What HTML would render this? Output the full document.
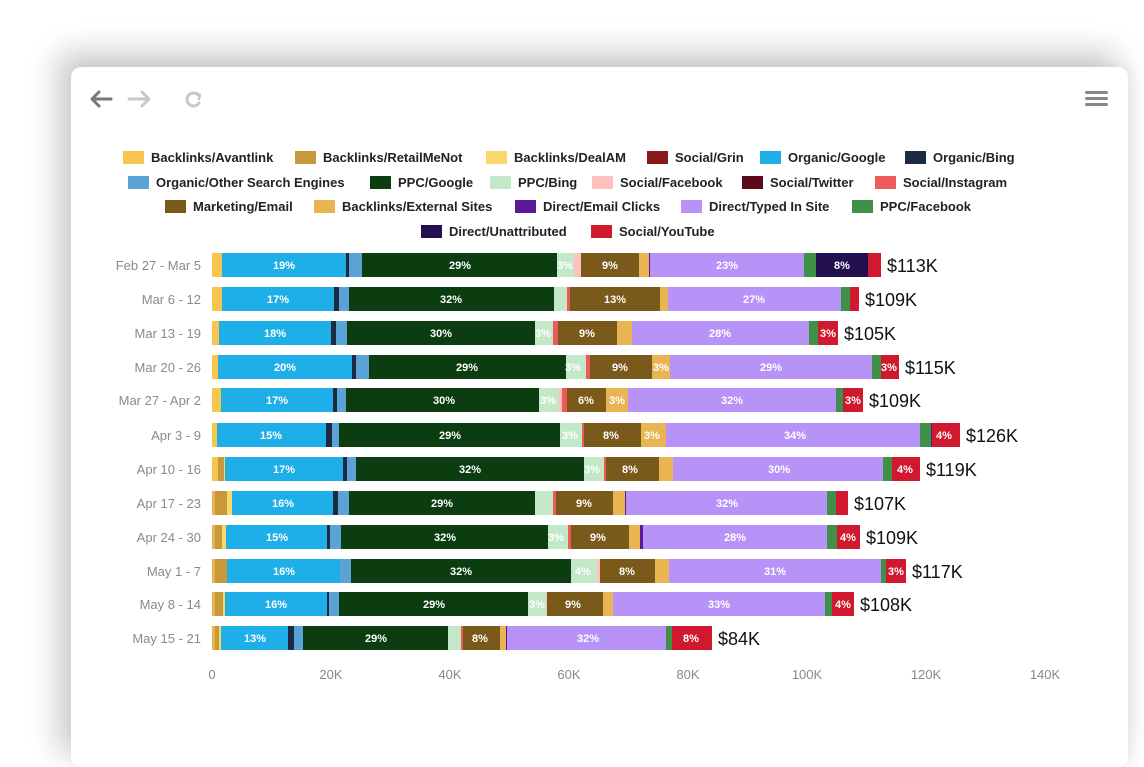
<!DOCTYPE html>
<html><head><meta charset="utf-8"><style>
html,body{margin:0;padding:0;width:1144px;height:723px;overflow:hidden;background:#fff;font-family:"Liberation Sans",Arial,sans-serif}
.card{position:absolute;left:71px;top:67px;width:1057px;height:700px;background:#fff;border-radius:10px;box-shadow:-12px -14px 30px 2px rgba(0,0,0,0.2),6px 0 14px rgba(0,0,0,0.06)}
svg{position:absolute;left:0;top:0}
.A{fill:#F5C54E}.R{fill:#C8993A}.D{fill:#F8D86A}.G{fill:#8B1A1A}.O{fill:#1EAEE8}.B{fill:#1C2A44}.S{fill:#5BA2D6}.P{fill:#0B3D10}.M{fill:#C2E8C8}.F{fill:#FFC0C0}.T{fill:#5C0A1A}.I{fill:#EE5A5A}.E{fill:#7A5A1A}.X{fill:#E8B552}.C{fill:#5A1A9A}.L{fill:#B792F7}.K{fill:#3F9148}.U{fill:#23104F}.Y{fill:#D0192E}
.lg{font-size:13px;font-weight:bold;fill:#222}
.bl{font-size:11px;font-weight:bold;fill:#fff;text-anchor:middle}
.tot{font-size:18px;fill:#111}
.rl{font-size:13px;fill:#8a8a8a;text-anchor:end}
.ax{font-size:13px;fill:#888;text-anchor:middle}
</style></head><body>
<div class="card"></div>
<svg width="1144" height="723" viewBox="0 0 1144 723">
<g stroke="#777" stroke-width="3" fill="none" stroke-linecap="round" stroke-linejoin="round">
<path d="M92 99 H111 M99 92 L92 99 L99 106"/>
</g>
<g stroke="#c8c8c8" stroke-width="3" fill="none" stroke-linecap="round" stroke-linejoin="round">
<path d="M129 99 H149 M142 92 L149 99 L142 106"/>
<path d="M199 96 A6.5 6.5 0 1 0 199 103"/>
<path d="M196 93 L200 95 L199 99" stroke-width="2.5"/>
</g>
<g fill="#888"><rect x="1085" y="91" width="23" height="3" rx="1.5"/><rect x="1085" y="97" width="23" height="3" rx="1.5"/><rect x="1085" y="103" width="23" height="3" rx="1.5"/></g>

<rect class="A" x="123" y="151" width="21" height="13"/><text class="lg" x="151" y="162">Backlinks/Avantlink</text>
<rect class="R" x="295" y="151" width="21" height="13"/><text class="lg" x="323" y="162">Backlinks/RetailMeNot</text>
<rect class="D" x="486" y="151" width="21" height="13"/><text class="lg" x="514" y="162">Backlinks/DealAM</text>
<rect class="G" x="647" y="151" width="21" height="13"/><text class="lg" x="675" y="162">Social/Grin</text>
<rect class="O" x="760" y="151" width="21" height="13"/><text class="lg" x="788" y="162">Organic/Google</text>
<rect class="B" x="905" y="151" width="21" height="13"/><text class="lg" x="933" y="162">Organic/Bing</text>

<rect class="S" x="128" y="176" width="21" height="13"/><text class="lg" x="156" y="187">Organic/Other Search Engines</text>
<rect class="P" x="370" y="176" width="21" height="13"/><text class="lg" x="398" y="187">PPC/Google</text>
<rect class="M" x="490" y="176" width="21" height="13"/><text class="lg" x="518" y="187">PPC/Bing</text>
<rect class="F" x="592" y="176" width="21" height="13"/><text class="lg" x="620" y="187">Social/Facebook</text>
<rect class="T" x="742" y="176" width="21" height="13"/><text class="lg" x="770" y="187">Social/Twitter</text>
<rect class="I" x="875" y="176" width="21" height="13"/><text class="lg" x="903" y="187">Social/Instagram</text>

<rect class="E" x="165" y="200" width="21" height="13"/><text class="lg" x="193" y="211">Marketing/Email</text>
<rect class="X" x="314" y="200" width="21" height="13"/><text class="lg" x="342" y="211">Backlinks/External Sites</text>
<rect class="C" x="515" y="200" width="21" height="13"/><text class="lg" x="543" y="211">Direct/Email Clicks</text>
<rect class="L" x="681" y="200" width="21" height="13"/><text class="lg" x="709" y="211">Direct/Typed In Site</text>
<rect class="K" x="852" y="200" width="21" height="13"/><text class="lg" x="880" y="211">PPC/Facebook</text>

<rect class="U" x="421" y="225" width="21" height="13"/><text class="lg" x="449" y="236">Direct/Unattributed</text>
<rect class="Y" x="591" y="225" width="21" height="13"/><text class="lg" x="619" y="236">Social/YouTube</text>

<text class="rl" x="201" y="270">Feb 27 - Mar 5</text>
<text class="rl" x="201" y="304">Mar 6 - 12</text>
<text class="rl" x="201" y="338">Mar 13 - 19</text>
<text class="rl" x="201" y="372">Mar 20 - 26</text>
<text class="rl" x="201" y="405">Mar 27 - Apr 2</text>
<text class="rl" x="201" y="440">Apr 3 - 9</text>
<text class="rl" x="201" y="474">Apr 10 - 16</text>
<text class="rl" x="201" y="508">Apr 17 - 23</text>
<text class="rl" x="201" y="542">Apr 24 - 30</text>
<text class="rl" x="201" y="576">May 1 - 7</text>
<text class="rl" x="201" y="609">May 8 - 14</text>
<text class="rl" x="201" y="643">May 15 - 21</text>

<g transform="translate(0,253)">
<rect class="A" x="212" width="10" height="24"/><rect class="O" x="222" width="124" height="24"/><rect class="B" x="346" width="3" height="24"/><rect class="S" x="349" width="13" height="24"/><rect class="P" x="362" width="195" height="24"/><rect class="M" x="557" width="17" height="24"/><rect class="F" x="574" width="7" height="24"/><rect class="E" x="581" width="58" height="24"/><rect class="X" x="639" width="10" height="24"/><rect class="C" x="649" width="1" height="24"/><rect class="L" x="650" width="154" height="24"/><rect class="K" x="804" width="12" height="24"/><rect class="U" x="816" width="52" height="24"/><rect class="Y" x="868" width="13" height="24"/>
<text class="bl" x="284" y="16">19%</text><text class="bl" x="460" y="16">29%</text><text class="bl" x="565" y="16">3%</text><text class="bl" x="610" y="16">9%</text><text class="bl" x="727" y="16">23%</text><text class="bl" x="842" y="16">8%</text>
<text class="tot" x="887" y="19">$113K</text></g>
<g transform="translate(0,287)">
<rect class="A" x="212" width="10" height="24"/><rect class="O" x="222" width="112" height="24"/><rect class="B" x="334" width="5" height="24"/><rect class="S" x="339" width="10" height="24"/><rect class="P" x="349" width="205" height="24"/><rect class="M" x="554" width="13" height="24"/><rect class="I" x="567" width="3" height="24"/><rect class="E" x="570" width="90" height="24"/><rect class="X" x="660" width="8" height="24"/><rect class="L" x="668" width="173" height="24"/><rect class="K" x="841" width="9" height="24"/><rect class="Y" x="850" width="9" height="24"/>
<text class="bl" x="278" y="16">17%</text><text class="bl" x="451" y="16">32%</text><text class="bl" x="615" y="16">13%</text><text class="bl" x="754" y="16">27%</text>
<text class="tot" x="865" y="19">$109K</text></g>
<g transform="translate(0,321)">
<rect class="A" x="212" width="7" height="24"/><rect class="O" x="219" width="112" height="24"/><rect class="B" x="331" width="5" height="24"/><rect class="S" x="336" width="11" height="24"/><rect class="P" x="347" width="188" height="24"/><rect class="M" x="535" width="18" height="24"/><rect class="I" x="553" width="5" height="24"/><rect class="E" x="558" width="59" height="24"/><rect class="X" x="617" width="15" height="24"/><rect class="L" x="632" width="177" height="24"/><rect class="K" x="809" width="9" height="24"/><rect class="Y" x="818" width="20" height="24"/>
<text class="bl" x="275" y="16">18%</text><text class="bl" x="441" y="16">30%</text><text class="bl" x="543" y="16">3%</text><text class="bl" x="587" y="16">9%</text><text class="bl" x="720" y="16">28%</text><text class="bl" x="828" y="16">3%</text>
<text class="tot" x="844" y="19">$105K</text></g>
<g transform="translate(0,355)">
<rect class="A" x="212" width="6" height="24"/><rect class="O" x="218" width="134" height="24"/><rect class="B" x="352" width="4" height="24"/><rect class="S" x="356" width="13" height="24"/><rect class="P" x="369" width="197" height="24"/><rect class="M" x="566" width="20" height="24"/><rect class="I" x="586" width="4" height="24"/><rect class="E" x="590" width="62" height="24"/><rect class="X" x="652" width="18" height="24"/><rect class="L" x="670" width="202" height="24"/><rect class="K" x="872" width="9" height="24"/><rect class="Y" x="881" width="18" height="24"/>
<text class="bl" x="285" y="16">20%</text><text class="bl" x="467" y="16">29%</text><text class="bl" x="573" y="16">3%</text><text class="bl" x="620" y="16">9%</text><text class="bl" x="661" y="16">3%</text><text class="bl" x="771" y="16">29%</text><text class="bl" x="889" y="16">3%</text>
<text class="tot" x="905" y="19">$115K</text></g>
<g transform="translate(0,388)">
<rect class="A" x="212" width="9" height="24"/><rect class="O" x="221" width="112" height="24"/><rect class="B" x="333" width="4" height="24"/><rect class="S" x="337" width="9" height="24"/><rect class="P" x="346" width="193" height="24"/><rect class="M" x="539" width="20" height="24"/><rect class="F" x="559" width="3" height="24"/><rect class="I" x="562" width="5" height="24"/><rect class="E" x="567" width="39" height="24"/><rect class="X" x="606" width="22" height="24"/><rect class="L" x="628" width="208" height="24"/><rect class="K" x="836" width="7" height="24"/><rect class="Y" x="843" width="20" height="24"/>
<text class="bl" x="277" y="16">17%</text><text class="bl" x="444" y="16">30%</text><text class="bl" x="548" y="16">3%</text><text class="bl" x="586" y="16">6%</text><text class="bl" x="617" y="16">3%</text><text class="bl" x="732" y="16">32%</text><text class="bl" x="853" y="16">3%</text>
<text class="tot" x="869" y="19">$109K</text></g>
<g transform="translate(0,423)">
<rect class="A" x="212" width="5" height="24"/><rect class="O" x="217" width="109" height="24"/><rect class="B" x="326" width="6" height="24"/><rect class="S" x="332" width="7" height="24"/><rect class="P" x="339" width="221" height="24"/><rect class="M" x="560" width="22" height="24"/><rect class="I" x="582" width="2" height="24"/><rect class="E" x="584" width="57" height="24"/><rect class="X" x="641" width="25" height="24"/><rect class="L" x="666" width="254" height="24"/><rect class="K" x="920" width="11" height="24"/><rect class="C" x="931" width="1" height="24"/><rect class="Y" x="932" width="28" height="24"/>
<text class="bl" x="271" y="16">15%</text><text class="bl" x="450" y="16">29%</text><text class="bl" x="570" y="16">3%</text><text class="bl" x="611" y="16">8%</text><text class="bl" x="652" y="16">3%</text><text class="bl" x="795" y="16">34%</text><text class="bl" x="944" y="16">4%</text>
<text class="tot" x="966" y="19">$126K</text></g>
<g transform="translate(0,457)">
<rect class="A" x="212" width="6" height="24"/><rect class="R" x="218" width="6" height="24"/><rect class="D" x="224" width="1" height="24"/><rect class="O" x="225" width="118" height="24"/><rect class="B" x="343" width="4" height="24"/><rect class="S" x="347" width="9" height="24"/><rect class="P" x="356" width="228" height="24"/><rect class="M" x="584" width="20" height="24"/><rect class="I" x="604" width="2" height="24"/><rect class="E" x="606" width="53" height="24"/><rect class="X" x="659" width="14" height="24"/><rect class="L" x="673" width="210" height="24"/><rect class="K" x="883" width="9" height="24"/><rect class="Y" x="892" width="28" height="24"/>
<text class="bl" x="284" y="16">17%</text><text class="bl" x="470" y="16">32%</text><text class="bl" x="592" y="16">3%</text><text class="bl" x="630" y="16">8%</text><text class="bl" x="779" y="16">30%</text><text class="bl" x="905" y="16">4%</text>
<text class="tot" x="926" y="19">$119K</text></g>
<g transform="translate(0,491)">
<rect class="X" x="212" width="3" height="24"/><rect class="R" x="215" width="12" height="24"/><rect class="D" x="227" width="5" height="24"/><rect class="O" x="232" width="101" height="24"/><rect class="B" x="333" width="5" height="24"/><rect class="S" x="338" width="11" height="24"/><rect class="P" x="349" width="186" height="24"/><rect class="M" x="535" width="18" height="24"/><rect class="I" x="553" width="3" height="24"/><rect class="E" x="556" width="57" height="24"/><rect class="X" x="613" width="12" height="24"/><rect class="C" x="625" width="1" height="24"/><rect class="L" x="626" width="201" height="24"/><rect class="K" x="827" width="9" height="24"/><rect class="Y" x="836" width="12" height="24"/>
<text class="bl" x="283" y="16">16%</text><text class="bl" x="442" y="16">29%</text><text class="bl" x="584" y="16">9%</text><text class="bl" x="727" y="16">32%</text>
<text class="tot" x="854" y="19">$107K</text></g>
<g transform="translate(0,525)">
<rect class="X" x="212" width="3" height="24"/><rect class="R" x="215" width="7" height="24"/><rect class="D" x="222" width="4" height="24"/><rect class="O" x="226" width="101" height="24"/><rect class="B" x="327" width="3" height="24"/><rect class="S" x="330" width="11" height="24"/><rect class="P" x="341" width="207" height="24"/><rect class="M" x="548" width="20" height="24"/><rect class="I" x="568" width="3" height="24"/><rect class="E" x="571" width="58" height="24"/><rect class="X" x="629" width="11" height="24"/><rect class="C" x="640" width="3" height="24"/><rect class="L" x="643" width="184" height="24"/><rect class="K" x="827" width="10" height="24"/><rect class="Y" x="837" width="23" height="24"/>
<text class="bl" x="277" y="16">15%</text><text class="bl" x="445" y="16">32%</text><text class="bl" x="556" y="16">3%</text><text class="bl" x="598" y="16">9%</text><text class="bl" x="735" y="16">28%</text><text class="bl" x="848" y="16">4%</text>
<text class="tot" x="866" y="19">$109K</text></g>
<g transform="translate(0,559)">
<rect class="X" x="212" width="3" height="24"/><rect class="R" x="215" width="12" height="24"/><rect class="O" x="227" width="113" height="24"/><rect class="S" x="340" width="11" height="24"/><rect class="P" x="351" width="220" height="24"/><rect class="M" x="571" width="26" height="24"/><rect class="F" x="597" width="3" height="24"/><rect class="E" x="600" width="55" height="24"/><rect class="X" x="655" width="14" height="24"/><rect class="L" x="669" width="212" height="24"/><rect class="K" x="881" width="5" height="24"/><rect class="Y" x="886" width="20" height="24"/>
<text class="bl" x="284" y="16">16%</text><text class="bl" x="461" y="16">32%</text><text class="bl" x="583" y="16">4%</text><text class="bl" x="627" y="16">8%</text><text class="bl" x="775" y="16">31%</text><text class="bl" x="896" y="16">3%</text>
<text class="tot" x="912" y="19">$117K</text></g>
<g transform="translate(0,592)">
<rect class="X" x="212" width="3" height="24"/><rect class="R" x="215" width="8" height="24"/><rect class="D" x="223" width="2" height="24"/><rect class="O" x="225" width="102" height="24"/><rect class="B" x="327" width="2" height="24"/><rect class="S" x="329" width="10" height="24"/><rect class="P" x="339" width="189" height="24"/><rect class="M" x="528" width="18" height="24"/><rect class="F" x="546" width="1" height="24"/><rect class="E" x="547" width="56" height="24"/><rect class="X" x="603" width="10" height="24"/><rect class="L" x="613" width="212" height="24"/><rect class="K" x="825" width="7" height="24"/><rect class="Y" x="832" width="22" height="24"/>
<text class="bl" x="276" y="16">16%</text><text class="bl" x="434" y="16">29%</text><text class="bl" x="537" y="16">3%</text><text class="bl" x="573" y="16">9%</text><text class="bl" x="719" y="16">33%</text><text class="bl" x="843" y="16">4%</text>
<text class="tot" x="860" y="19">$108K</text></g>
<g transform="translate(0,626)">
<rect class="X" x="212" width="3" height="24"/><rect class="R" x="215" width="4" height="24"/><rect class="D" x="219" width="2" height="24"/><rect class="O" x="221" width="67" height="24"/><rect class="B" x="288" width="6" height="24"/><rect class="S" x="294" width="9" height="24"/><rect class="P" x="303" width="145" height="24"/><rect class="M" x="448" width="13" height="24"/><rect class="I" x="461" width="2" height="24"/><rect class="E" x="463" width="37" height="24"/><rect class="X" x="500" width="6" height="24"/><rect class="C" x="506" width="1" height="24"/><rect class="L" x="507" width="159" height="24"/><rect class="K" x="666" width="6" height="24"/><rect class="Y" x="672" width="40" height="24"/>
<text class="bl" x="255" y="16">13%</text><text class="bl" x="376" y="16">29%</text><text class="bl" x="480" y="16">8%</text><text class="bl" x="588" y="16">32%</text><text class="bl" x="691" y="16">8%</text>
<text class="tot" x="718" y="19">$84K</text></g>

<text class="ax" x="212" y="679">0</text>
<text class="ax" x="331" y="679">20K</text>
<text class="ax" x="450" y="679">40K</text>
<text class="ax" x="569" y="679">60K</text>
<text class="ax" x="688" y="679">80K</text>
<text class="ax" x="807" y="679">100K</text>
<text class="ax" x="926" y="679">120K</text>
<text class="ax" x="1045" y="679">140K</text>
</svg>
</body></html>
